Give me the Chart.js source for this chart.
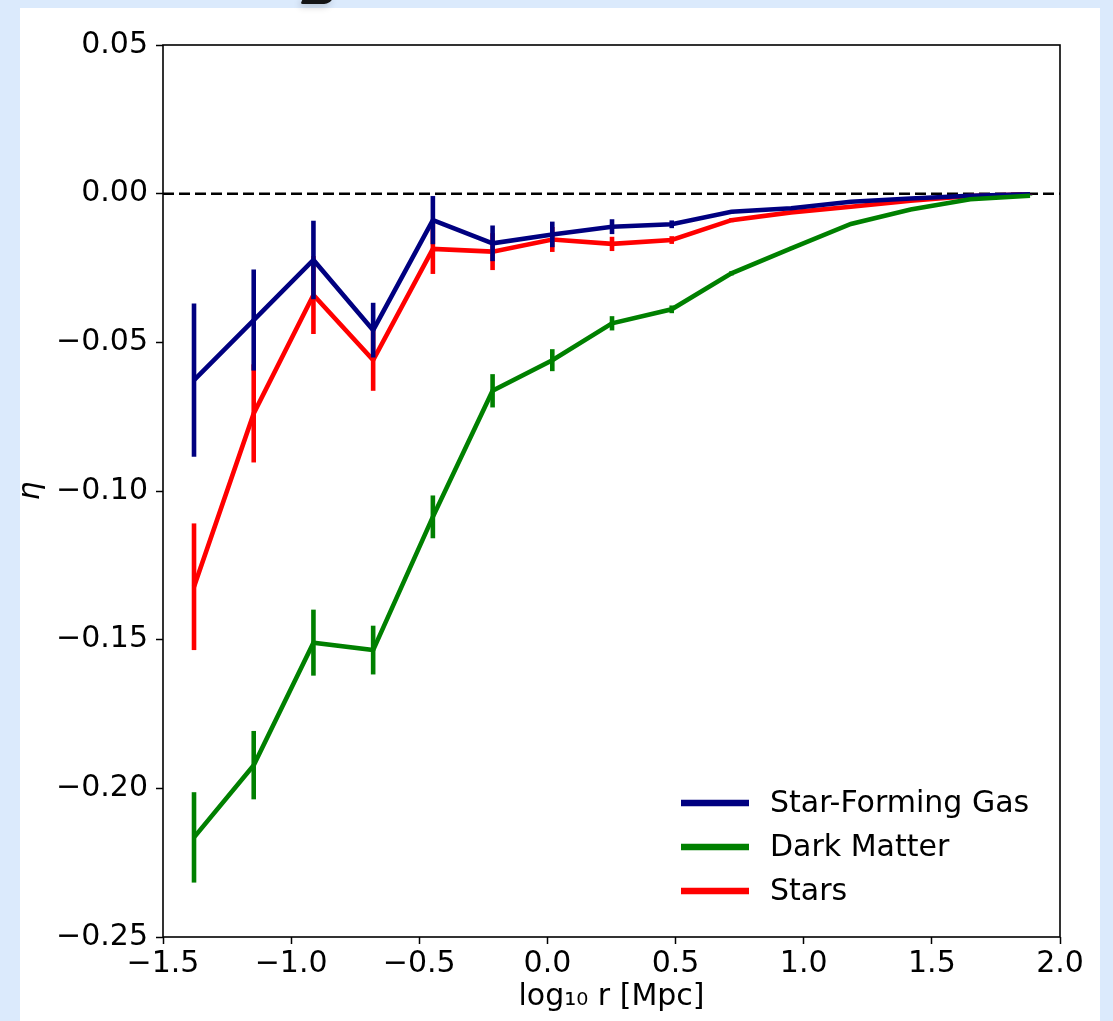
<!DOCTYPE html>
<html>
<head>
<meta charset="utf-8">
<script src="https://cdn.jsdelivr.net/npm/chart.js@4.4.1/dist/chart.umd.min.js"></script>
<style>
  html, body { margin: 0; padding: 0; width: 1113px; height: 1021px; overflow: hidden; background: #dbeafc; }
  #panel { position: absolute; left: 20px; top: 8px; width: 1080px; height: 1013px; background: #ffffff; }
  #smudge { position: absolute; left: 302px; top: -3px; width: 30px; height: 7px; background: #141414;
            border-radius: 1px 1px 8px 3px; transform: skewX(-25deg); box-shadow: 0 3px 7px rgba(0,0,0,0.18); }
  #c { position: absolute; left: 0; top: 0; }
</style>
</head>
<body>
<div id="panel"></div>
<div id="smudge"></div>
<canvas id="c" width="1113" height="1021"></canvas>
<script>
// ---- data ----
const seriesNames = ['Star-Forming Gas', 'Dark Matter', 'Stars'];
const seriesColors = ['#000080', '#008000', '#ff0000'];

const logR = [-1.379, -1.146, -0.913, -0.680, -0.447, -0.214, 0.019, 0.252, 0.485, 0.718, 0.951, 1.184, 1.417, 1.650, 1.883];

const gasEta = [-0.0627, -0.0425, -0.0223, -0.0459, -0.0089, -0.0167, -0.0137, -0.0111, -0.0103, -0.0061, -0.0049, -0.0027, -0.0016, -0.0007, -0.0002];
const gasErr = [0.0258, 0.0170, 0.0132, 0.0092, 0.0081, 0.0060, 0.0043, 0.0025, 0.0013, 0.0006, 0.0004, 0.0003, 0.0002, 0.0001, 0.0001];

const dmEta  = [-0.2165, -0.1922, -0.1510, -0.1535, -0.1087, -0.0663, -0.0560, -0.0436, -0.0389, -0.0268, -0.0184, -0.0102, -0.0053, -0.0019, -0.0007];
const dmErr  = [0.0152, 0.0115, 0.0111, 0.0082, 0.0072, 0.0056, 0.0037, 0.0024, 0.0013, 0.0007, 0.0005, 0.0003, 0.0002, 0.0001, 0.0001];

const starEta = [-0.1322, -0.0739, -0.0341, -0.0560, -0.0186, -0.0195, -0.0154, -0.0169, -0.0156, -0.0089, -0.0063, -0.0044, -0.0024, -0.0008, -0.0002];
const starErr = [0.0213, 0.0165, 0.0131, 0.0103, 0.0084, 0.0062, 0.0042, 0.0024, 0.0013, 0.0007, 0.0005, 0.0003, 0.0002, 0.0001, 0.0001];

const zeroLineX = [-1.5, 2.0];
const zeroLineY = [0, 0];

const xTicks = [-1.5, -1.0, -0.5, 0.0, 0.5, 1.0, 1.5, 2.0];
const yTicks = [-0.25, -0.20, -0.15, -0.10, -0.05, 0.00, 0.05];

const xTitle = 'log\u2081\u2080 r [Mpc]';
const yTitle = '\u03b7';

// ---- build chart ----
const FONT = 'DejaVu Sans';
const FS = 30;
const toPts = (xs, ys) => xs.map((x, i) => ({ x: x, y: ys[i] }));
const fmt = (v, d) => {
  const r = Math.round(v * Math.pow(10, d)) / Math.pow(10, d);
  return (r < 0 ? '\u2212' : '') + Math.abs(r).toFixed(d);
};

const valueSets = [gasEta, dmEta, starEta];
const errSets = [gasErr, dmErr, starErr];
const drawOrder = [2, 1, 3]; // red bottom, blue middle, green top

const datasets = seriesNames.map((name, i) => ({
  label: name,
  data: toPts(logR, valueSets[i]),
  errors: errSets[i],
  borderColor: seriesColors[i],
  backgroundColor: seriesColors[i],
  borderWidth: 4.6,
  pointRadius: 0,
  tension: 0,
  fill: false,
  order: drawOrder[i],
  borderCapStyle: 'butt',
  borderJoinStyle: 'miter'
}));
datasets.push({
  label: '',
  data: toPts(zeroLineX, zeroLineY),
  borderColor: '#000000',
  borderWidth: 2.5,
  borderDash: [11, 5],
  pointRadius: 0,
  fill: false,
  order: 10,
  isRef: true
});

const errorBarPlugin = {
  id: 'errorBars',
  afterDatasetDraw(chart, args) {
    const ds = chart.data.datasets[args.index];
    if (!ds.errors) return;
    const xs = chart.scales.x, ys = chart.scales.y, ctx = chart.ctx;
    const a = chart.chartArea;
    ctx.save();
    ctx.beginPath();
    ctx.rect(a.left, a.top, a.right - a.left, a.bottom - a.top);
    ctx.clip();
    ctx.strokeStyle = ds.borderColor;
    ctx.lineWidth = 4.6;
    ctx.lineCap = 'butt';
    ds.data.forEach((p, i) => {
      const e = ds.errors[i];
      const px = xs.getPixelForValue(p.x);
      ctx.beginPath();
      ctx.moveTo(px, ys.getPixelForValue(p.y - e));
      ctx.lineTo(px, ys.getPixelForValue(p.y + e));
      ctx.stroke();
    });
    ctx.restore();
  }
};

const framePlugin = {
  id: 'frameAndLegend',
  afterDatasetsDraw(chart) {
    const ctx = chart.ctx, a = chart.chartArea;
    ctx.save();
    ctx.strokeStyle = '#000000';
    ctx.lineWidth = 1.6;
    ctx.strokeRect(a.left, a.top, a.right - a.left, a.bottom - a.top);
    // legend (inside lower right)
    const x0 = a.right - 379, len = 68, tx = a.right - 290;
    const y0 = a.bottom - 134, dy = 44;
    ctx.font = FS + 'px "' + FONT + '"';
    ctx.textBaseline = 'middle';
    ctx.textAlign = 'left';
    chart.data.datasets.filter(d => !d.isRef).forEach((d, i) => {
      const y = y0 + i * dy;
      ctx.strokeStyle = d.borderColor;
      ctx.lineWidth = 6.5;
      ctx.lineCap = 'butt';
      ctx.beginPath();
      ctx.moveTo(x0, y);
      ctx.lineTo(x0 + len, y);
      ctx.stroke();
      ctx.fillStyle = '#000000';
      ctx.fillText(d.label, tx, y + 1);
    });
    ctx.restore();
  }
};

new Chart(document.getElementById('c'), {
  type: 'line',
  data: { datasets: datasets },
  options: {
    responsive: false,
    animation: false,
    devicePixelRatio: 1,
    layout: { padding: { left: 0, top: 45, right: 53, bottom: 0 } },
    plugins: { legend: { display: false }, tooltip: { enabled: false } },
    scales: {
      x: {
        type: 'linear',
        position: 'bottom',
        min: -1.5, max: 2.0,
        afterBuildTicks: s => { s.ticks = xTicks.map(v => ({ value: v })); },
        afterFit: s => { s.height = 84; },
        grid: { drawOnChartArea: false, drawTicks: true, tickLength: 7, tickWidth: 1.5, tickColor: '#000000' },
        border: { display: false },
        ticks: { color: '#000000', font: { family: FONT, size: FS }, padding: 2, maxRotation: 0, autoSkip: false,
                 callback: v => fmt(v, 1) },
        title: { display: true, text: xTitle, color: '#000000', font: { family: FONT, size: FS },
                 padding: { top: 0, bottom: 6 } }
      },
      y: {
        type: 'linear',
        position: 'left',
        min: -0.25, max: 0.05,
        afterBuildTicks: s => { s.ticks = yTicks.map(v => ({ value: v })); },
        afterFit: s => { s.width = 163; },
        grid: { drawOnChartArea: false, drawTicks: true, tickLength: 7, tickWidth: 1.5, tickColor: '#000000' },
        border: { display: false },
        ticks: { color: '#000000', font: { family: FONT, size: FS }, padding: 8, autoSkip: false,
                 callback: v => fmt(v, 2) },
        title: { display: true, text: yTitle, color: '#000000', font: { family: FONT, size: FS, style: 'italic' },
                 padding: { top: 13, bottom: 0 } }
      }
    }
  },
  plugins: [errorBarPlugin, framePlugin]
});
</script>
</body>
</html>
